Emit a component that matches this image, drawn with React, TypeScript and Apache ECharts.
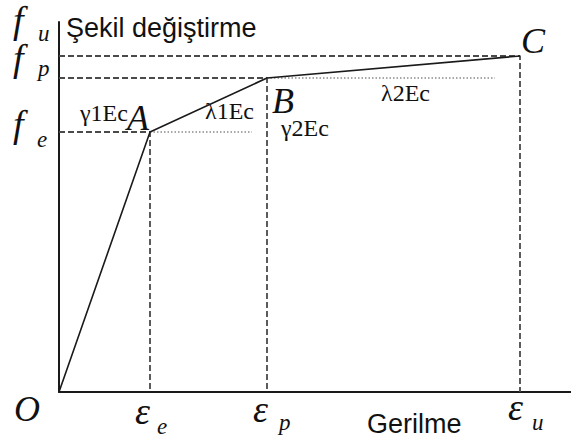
import React, { useEffect, useRef } from "react";
import * as echarts from "echarts";

// Tri-linear stress–strain model: O → A → B → C
const pointNames = ["O", "A", "B", "C"];
const strain = [0, 0.91, 2.08, 4.61];
const stress = [0, 26, 31.4, 33.6];
// dotted reference lines drawn horizontally from A and B
const tangentEnds = [1.93, 4.36];
const slopeLabels = ["γ1Ec", "λ1Ec", "γ2Ec", "λ2Ec"];
const stressSubs = ["u", "p", "e"];
const strainSubs = ["e", "p", "u"];
const yTitle = "Şekil değiştirme";
const xTitle = "Gerilme";

const SERIF = "'Liberation Serif', 'Times New Roman', serif";
const SANS = "'Liberation Sans', Arial, sans-serif";

function txt(text: string, x: number, y: number, font: string, lineHeight?: number) {
  const style: any = {
    text,
    font,
    fill: "#111",
    align: "left",
    verticalAlign: "middle",
    textAlign: "left",
    textVerticalAlign: "middle",
  };
  if (lineHeight) style.lineHeight = lineHeight;
  return { type: "text", x, y, silent: true, style };
}

export default function App() {
  const ref = useRef<HTMLDivElement>(null);

  useEffect(() => {
    const chart = echarts.init(ref.current!, null, { renderer: "svg" });
    const pts = strain.map((x, i) => [x, stress[i]]);

    const series: any[] = [];
    // dashed projections of A, B, C onto both axes
    for (let i = 1; i < pts.length; i++) {
      series.push({
        type: "line",
        data: [
          [0, stress[i]],
          [strain[i], stress[i]],
          [strain[i], 0],
        ],
        symbol: "none",
        silent: true,
        z: 1,
        lineStyle: { color: "#4a4a4a", width: 1.8, type: [6, 3] },
      });
    }
    // dotted horizontals from A and B
    tangentEnds.forEach((end, k) => {
      const i = k + 1;
      series.push({
        type: "line",
        data: [
          [strain[i], stress[i]],
          [end, stress[i]],
        ],
        symbol: "none",
        silent: true,
        z: 1,
        lineStyle: { color: "#8a8a8a", width: 1.6, type: [1.5, 2] },
      });
    });
    // the model curve
    series.push({
      type: "line",
      data: pts,
      symbol: "none",
      silent: true,
      z: 3,
      lineStyle: { color: "#1a1a1a", width: 1.6 },
    });

    const big = `italic 36px ${SERIF}`;
    const eps = `italic 38px ${SERIF}`;
    const fBig = `italic 38px ${SERIF}`;
    const sub = `italic 23px ${SERIF}`;
    const slope = `24px ${SERIF}`;
    const sans = `27px ${SANS}`;

    const graphic: any[] = [
      // stress symbols on the vertical axis
      txt("f", 13, 20, fBig, 30),
      txt(stressSubs[0], 38, 33, sub, 18),
      txt("f", 13, 58, fBig, 30),
      txt(stressSubs[1], 38, 68.5, sub, 18),
      txt("f", 13, 124, fBig, 30),
      txt(stressSubs[2], 37, 139.6, sub, 18),
      // strain symbols under the horizontal axis
      txt("ε", 135, 411, eps, 30),
      txt(strainSubs[0], 157, 426, sub, 18),
      txt("ε", 253, 409, eps, 30),
      txt(strainSubs[1], 279, 422.5, sub, 18),
      txt("ε", 508, 407, eps, 30),
      txt(strainSubs[2], 532, 422, sub, 18),
      // point names
      txt(pointNames[0], 14, 408.9, big),
      txt(pointNames[1], 127, 117.5, big),
      txt(pointNames[2], 272, 101, big),
      txt(pointNames[3], 521, 41, big),
      // slope annotations
      txt(slopeLabels[0], 80, 112.6, slope),
      txt(slopeLabels[1], 205, 110.6, slope),
      txt(slopeLabels[2], 281, 127.6, slope),
      txt(slopeLabels[3], 381, 92.6, slope),
      // axis titles
      txt(yTitle, 66, 27.6, sans),
      txt(xTitle, 367, 423.6, sans),
    ];

    chart.setOption({
      animation: false,
      backgroundColor: "#ffffff",
      grid: { left: 59, right: 0, top: 22, bottom: 49, containLabel: false },
      xAxis: {
        type: "value",
        min: 0,
        max: 5.12,
        axisLine: { show: true, onZero: false, lineStyle: { color: "#1a1a1a", width: 2 } },
        axisTick: { show: false },
        axisLabel: { show: false },
        splitLine: { show: false },
      },
      yAxis: {
        type: "value",
        min: 0,
        max: 37,
        axisLine: { show: true, onZero: false, lineStyle: { color: "#1a1a1a", width: 2 } },
        axisTick: { show: false },
        axisLabel: { show: false },
        splitLine: { show: false },
      },
      series,
      graphic,
    });

    return () => chart.dispose();
  }, []);

  return (
    <div
      ref={ref}
      style={{ position: "fixed", left: 0, top: 0, width: 571, height: 441, background: "#fff" }}
    />
  );
}
